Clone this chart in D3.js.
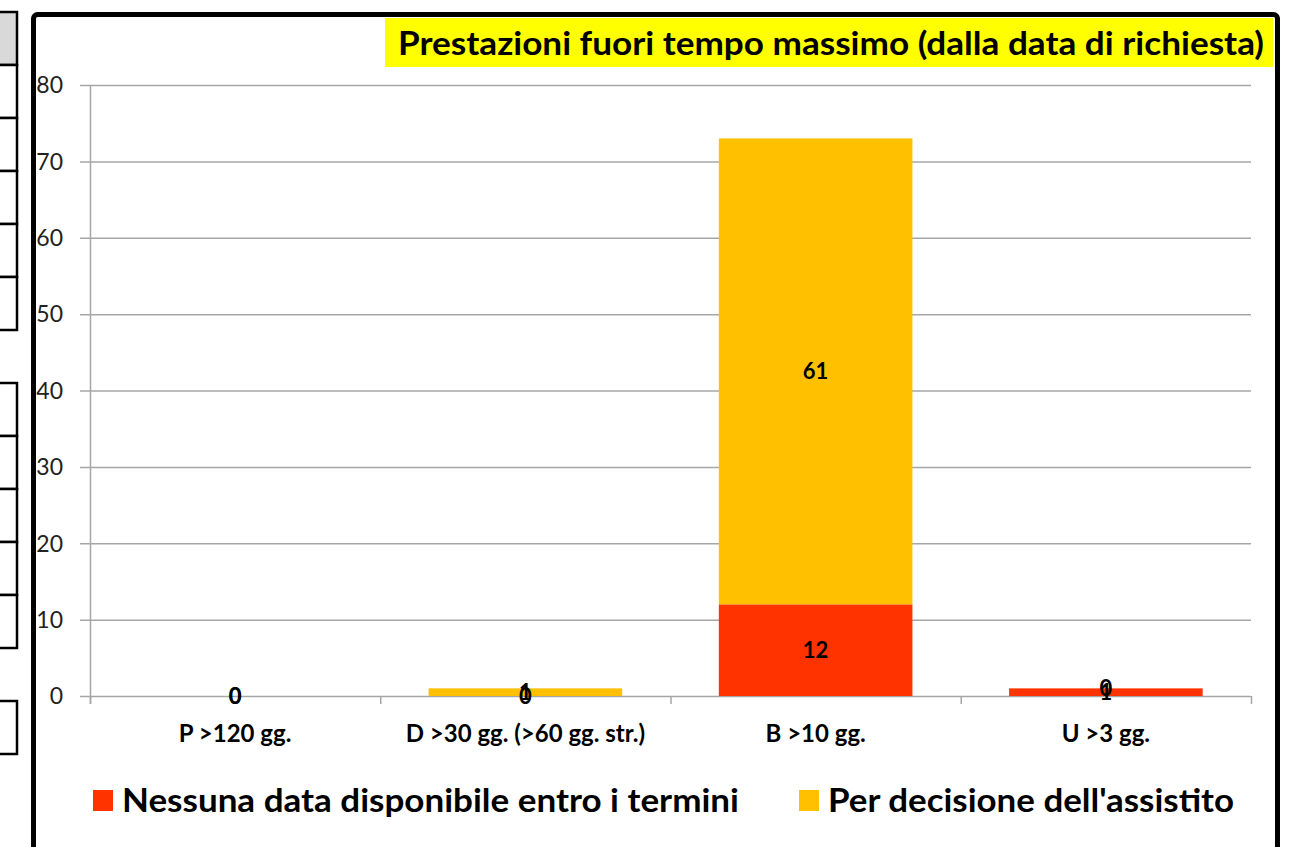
<!DOCTYPE html>
<html>
<head>
<meta charset="utf-8">
<script src="https://cdn.jsdelivr.net/npm/d3@7"></script>
<style>
  body { margin: 0; background: #fff; }
  svg { display: block; font-family: Lato, "Open Sans", sans-serif; }
</style>
</head>
<body>
<script>
// Data
var categories = ['P >120 gg.', 'D >30 gg. (>60 gg. str.)', 'B >10 gg.', 'U >3 gg.'];
var nessunaData = [0, 0, 12, 1];
var perDecisione = [0, 1, 61, 0];
var seriesNames = ['Nessuna data disponibile entro i termini', "Per decisione dell'assistito"];
var seriesColors = ['#FF3300', '#FFC000'];
var yTicks = [0, 10, 20, 30, 40, 50, 60, 70, 80];

var w = 1308;
var h = 847;

var svg = d3.select('body').append('svg').attr('width', w).attr('height', h);

// spreadsheet cells peeking out on the left
var cellRows = [[12, 65], [65, 118], [118, 171], [171, 224], [224, 277], [277, 330],
                [383, 436], [436, 489], [489, 542], [542, 595], [595, 648], [701, 754]];
svg.selectAll('rect.cell').data(cellRows).enter().append('rect')
  .attr('class', 'cell')
  .attr('x', -10)
  .attr('y', function(d) { return d[0]; })
  .attr('width', 27)
  .attr('height', function(d) { return d[1] - d[0]; })
  .attr('fill', function(d, i) { return i === 0 ? '#d9d9d9' : '#fff'; })
  .attr('stroke', '#000')
  .attr('stroke-width', 2.5);

// chart frame
svg.append('rect')
  .attr('x', 33.5).attr('y', 14.5)
  .attr('width', 1244).attr('height', 900)
  .attr('rx', 4)
  .attr('fill', '#fff')
  .attr('stroke', '#000')
  .attr('stroke-width', 5);

// scales
var x = d3.scaleBand().domain(categories).range([90, 1251]).padding(0);
var y = d3.scaleLinear().domain([0, 80]).range([696, 85]);
var barW = x.bandwidth() * 0.667;

// gridlines
svg.selectAll('line.grid').data(yTicks).enter().append('line')
  .attr('x1', 80).attr('x2', 1251)
  .attr('y1', function(d) { return y(d) + 0.5; })
  .attr('y2', function(d) { return y(d) + 0.5; })
  .attr('stroke', '#a6a6a6')
  .attr('stroke-width', 1.5);

// y axis line
svg.append('line')
  .attr('x1', 90.5).attr('x2', 90.5)
  .attr('y1', y(80)).attr('y2', 704)
  .attr('stroke', '#a6a6a6').attr('stroke-width', 1.5);

// x axis ticks on category boundaries
var bounds = categories.map(function(c) { return x(c); }).concat([1251]);
svg.selectAll('line.xtick').data(bounds).enter().append('line')
  .attr('x1', function(d) { return d + 0.5; })
  .attr('x2', function(d) { return d + 0.5; })
  .attr('y1', 696).attr('y2', 704)
  .attr('stroke', '#a6a6a6').attr('stroke-width', 1.5);

// y tick labels
svg.selectAll('text.ytick').data(yTicks).enter().append('text')
  .attr('x', 63)
  .attr('y', function(d) { return y(d); })
  .attr('dy', '0.36em')
  .attr('text-anchor', 'end')
  .attr('font-size', '23px')
  .attr('fill', '#222')
  .text(function(d) { return d; });

// stacked bars
var rows = categories.map(function(c, i) {
  return { cat: c, a: nessunaData[i], b: perDecisione[i] };
});
var stack = d3.stack().keys(['a', 'b'])(rows);

var layer = svg.selectAll('g.layer').data(stack).enter().append('g')
  .attr('fill', function(d, i) { return seriesColors[i]; });

layer.selectAll('rect').data(function(d) { return d; }).enter().append('rect')
  .attr('x', function(d) { return x(d.data.cat) + (x.bandwidth() - barW) / 2; })
  .attr('y', function(d) { return y(d[1]); })
  .attr('width', barW)
  .attr('height', function(d) { return y(d[0]) - y(d[1]); });

// data labels (zero values sit on top of each other, as in the original)
stack.forEach(function(s) {
  svg.selectAll(null).data(s).enter().append('text')
    .attr('x', function(d) { return x(d.data.cat) + x.bandwidth() / 2; })
    .attr('y', function(d) { return y((d[0] + d[1]) / 2); })
    .attr('dy', '0.36em')
    .attr('text-anchor', 'middle')
    .attr('font-size', '22px')
    .attr('font-weight', 'bold')
    .attr('fill', '#000')
    .text(function(d) { return d[1] - d[0]; });
});

// category labels
svg.selectAll('text.xlab').data(categories).enter().append('text')
  .attr('x', function(d) { return x(d) + x.bandwidth() / 2; })
  .attr('y', 742)
  .attr('text-anchor', 'middle')
  .attr('font-size', '24px')
  .attr('font-weight', 'bold')
  .attr('fill', '#000')
  .text(function(d) { return d; });

// title
svg.append('rect')
  .attr('x', 385).attr('y', 18)
  .attr('width', 888).attr('height', 49)
  .attr('fill', '#FFFF00');
svg.append('text')
  .attr('x', 398).attr('y', 55)
  .attr('font-size', '33px')
  .attr('font-weight', 'bold')
  .attr('textLength', 866)
  .attr('lengthAdjust', 'spacingAndGlyphs')
  .attr('fill', '#000')
  .text('Prestazioni fuori tempo massimo (dalla data di richiesta)');

// legend
var legendX = [93, 799];
var legendLen = [617, 406];
var leg = svg.selectAll('g.legend').data(seriesNames).enter().append('g')
  .attr('transform', function(d, i) { return 'translate(' + legendX[i] + ',790)'; });
leg.append('rect')
  .attr('width', 20).attr('height', 21)
  .attr('fill', function(d, i) { return seriesColors[i]; });
leg.append('text')
  .attr('x', 29).attr('y', 22)
  .attr('font-size', '33px')
  .attr('font-weight', 'bold')
  .attr('textLength', function(d, i) { return legendLen[i]; })
  .attr('lengthAdjust', 'spacingAndGlyphs')
  .attr('fill', '#000')
  .text(function(d) { return d; });
</script>
</body>
</html>
